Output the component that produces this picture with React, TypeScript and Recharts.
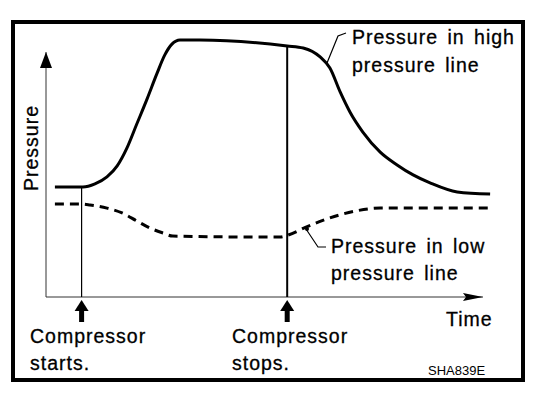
import React from 'react';
import { LineChart, Line, XAxis, YAxis, ReferenceLine, ReferenceDot, Customized } from 'recharts';

// time positions (0..100) and pressure readings (0..100)
const highTime = [2, 8.3, 11, 13.7, 16, 18.2, 20.4, 22.7, 24.9, 26.7, 28.3, 30.1, 34.6, 54.2, 57.8, 61.6, 63.8, 66.1, 68.3, 71.2, 75.1, 78.9, 82.5, 86.3, 92.4, 99.8];
const highPressure = [42.8, 42.8, 44, 46.7, 51, 58, 67.3, 77, 86.8, 94.2, 98.4, 100, 100, 97.7, 96.9, 93.4, 89.1, 79.8, 72, 64.2, 56.4, 51.4, 47.5, 44.4, 40.9, 40.1];

const lowTime = [2, 7.6, 9.9, 13.7, 17.1, 20.4, 23.4, 26.3, 28.5, 52.6, 54.4, 58.7, 62.2, 66.1, 70, 75.1, 99.8];
const lowPressure = [36.2, 36.2, 35.8, 34.6, 32.7, 29.6, 26.8, 24.9, 23.7, 23.3, 24.1, 27.4, 29.8, 32, 33.6, 34.6, 34.6];

const compressorStart = 8;
const compressorStop = 54.2;
const highAtStart = 42.8;
const highAtStop = 97.7;

const axisEndTime = 98.2;
const axisEndPressure = 95.3;

const highData = highTime.map((t, i) => ({ t, p: highPressure[i] }));
const lowData = lowTime.map((t, i) => ({ t, p: lowPressure[i] }));

const font = '"Liberation Sans", Arial, Helvetica, sans-serif';
const txt = { fontFamily: font, fontSize: 19.5, letterSpacing: 1, wordSpacing: 3, fill: '#000', stroke: '#000', strokeWidth: 0.3 } as const;

const UpArrow = (props: any) => (
  <path d={`M${props.cx - 6},${props.cy + 16} L${props.cx + 6},${props.cy + 16} L${props.cx},${props.cy} Z`} fill="#000" />
);

const RightArrow = (props: any) => (
  <path d={`M${props.cx},${props.cy} L${props.cx - 20},${props.cy - 4} L${props.cx - 17},${props.cy} L${props.cx - 20},${props.cy + 4} Z`} fill="#000" />
);

const CompressorArrow = (props: any) => (
  <g>
    <path d={`M${props.cx},${props.cy + 3} L${props.cx + 7},${props.cy + 14} L${props.cx - 7},${props.cy + 14} Z`} fill="#000" />
    <rect x={props.cx - 2.5} y={props.cy + 13} width={5} height={12} fill="#000" />
  </g>
);

const Annotations = () => (
  <g>
    <text x={38} y={148} transform="rotate(-90 38 148)" textAnchor="middle" {...txt}>Pressure</text>
    <path d="M327,63 L338,36 L346,33" fill="none" stroke="#000" strokeWidth={1.2} />
    <text x={352} y={44} {...txt}>Pressure in high</text>
    <text x={352} y={72} {...txt}>pressure line</text>
    <path d="M306,229 L318,247 L326,247" fill="none" stroke="#000" strokeWidth={1.2} />
    <circle cx={307} cy={229} r={2} fill="#000" />
    <text x={331} y={253} {...txt}>Pressure in low</text>
    <text x={331} y={280} {...txt}>pressure line</text>
    <text x={446} y={326} {...txt}>Time</text>
    <text x={30} y={343} {...txt}>Compressor</text>
    <text x={30} y={370} {...txt}>starts.</text>
    <text x={232} y={343} {...txt}>Compressor</text>
    <text x={232} y={370} {...txt}>stops.</text>
    <text x={428} y={375} fontFamily={font} fontSize={13} fill="#000">SHA839E</text>
  </g>
);

export default function App() {
  return (
    <div style={{ position: 'absolute', left: 0, top: 0, width: 560, height: 396, background: '#fff' }}>
      <div style={{ position: 'absolute', left: 11, top: 20, width: 514, height: 362, border: '4px solid #000', boxSizing: 'border-box' }} />
      <div style={{ position: 'absolute', left: 0, top: 0 }}>
        <LineChart width={560} height={396} margin={{ top: 40, right: 69, left: 46, bottom: 99 }}>
          <XAxis type="number" dataKey="t" domain={[0, 100]} hide allowDuplicatedCategory={false} />
          <YAxis type="number" domain={[0, 100]} hide />
          <ReferenceLine segment={[{ x: 0, y: 0 }, { x: axisEndTime, y: 0 }]} stroke="#333" strokeWidth={1} ifOverflow="visible" />
          <ReferenceLine segment={[{ x: 0, y: 0 }, { x: 0, y: axisEndPressure }]} stroke="#333" strokeWidth={1} ifOverflow="visible" />
          <ReferenceDot x={axisEndTime} y={0} r={4} shape={RightArrow} ifOverflow="visible" />
          <ReferenceDot x={0} y={axisEndPressure} r={4} shape={UpArrow} ifOverflow="visible" />
          <ReferenceLine segment={[{ x: compressorStart, y: 0 }, { x: compressorStart, y: highAtStart }]} stroke="#000" strokeWidth={1.2} ifOverflow="visible" />
          <ReferenceLine segment={[{ x: compressorStop, y: 0 }, { x: compressorStop, y: highAtStop }]} stroke="#000" strokeWidth={2} ifOverflow="visible" />
          <ReferenceDot x={compressorStart} y={0} r={4} shape={CompressorArrow} ifOverflow="visible" />
          <ReferenceDot x={compressorStop} y={0} r={4} shape={CompressorArrow} ifOverflow="visible" />
          <Line data={highData} dataKey="p" type="monotone" stroke="#000" strokeWidth={3} dot={false} isAnimationActive={false} />
          <Line data={lowData} dataKey="p" type="monotone" stroke="#000" strokeWidth={3} strokeDasharray="9 6" dot={false} isAnimationActive={false} />
          <Customized component={Annotations} />
        </LineChart>
      </div>
    </div>
  );
}
